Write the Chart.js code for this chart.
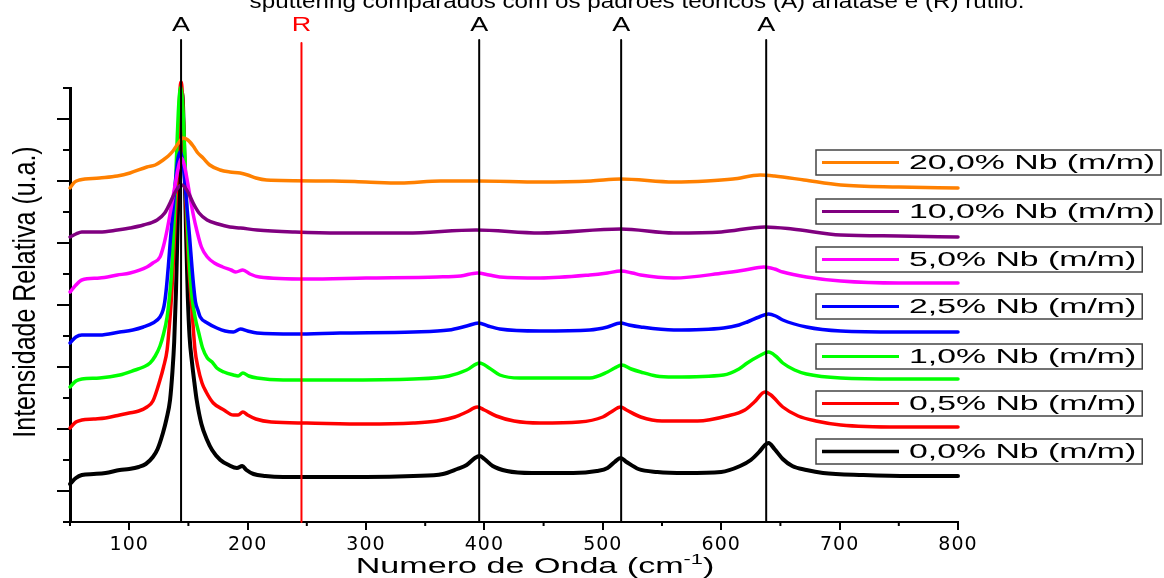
<!DOCTYPE html>
<html lang="pt">
<head>
<meta charset="utf-8">
<title>Espectros Raman</title>
<script src="https://cdn.jsdelivr.net/npm/chart.js@4.4.1/dist/chart.umd.min.js"></script>
<style>
  html, body { margin: 0; padding: 0; background: #fff; }
  #wrap { width: 1164px; height: 578px; position: relative; }
</style>
</head>
<body>
<div id="wrap"><canvas id="raman"></canvas></div>
<script>
// Raman spectra (offset for clarity), intensity in arbitrary units
const labels = ['20,0% Nb (m/m)', '10,0% Nb (m/m)', '5,0% Nb (m/m)', '2,5% Nb (m/m)', '1,0% Nb (m/m)', '0,5% Nb (m/m)', '0,0% Nb (m/m)'];
const colors = ['#ff8000', '#800080', '#ff00ff', '#0000ff', '#00ff00', '#ff0000', '#000000'];

const s20X = [50,54,58,75,90,100.7,115,122,128.6,133,137,141,145.5,149.5,154,158,162.4,168,176.8,185,193.7,200,207,216,272,300,329,363,395,447,490,515,560,588,610,633,645,670,701,750,800];
const s20Y = [334,340,342,344,346,349,355,357,362,366,371,378,384,382,376,369,364,357,352,350,349,347,344,342,341,340,339,341,341,340,341,343,340,341,343,347,346,342,337,335,334];

const s10X = [50,55,60,75,90,100.7,112,123.6,130,134.5,138,141,144.3,147.5,150.5,154,159,165.8,175,185,194,208,240,278,334,393,447,515,560,600,637,660,701,750,800];
const s10Y = [285,288,290,290,292,294,297,302,309,319,328,334,337,334,328,319,309,302,298,295,294,292,290,289,289,292,289,293,289,290,295,293,287,286,285];

const s5X = [50,55,60,75,90,100.7,115,120,126,129,132,134.5,137,139.5,142,144.2,146.5,149,151.4,154,157,161,166,172,179,186,190,196,202,210,250,300,360,380,394,404,413,447,489,504,515,525,532,560,602,620,636,645,652,672,701,750,800];
const s5Y = [230,237,242,244,247,249,255,259,265,276,292,308,325,342,357,364,357,342,325,308,292,275,265,259,255,252,250,252,248,245,243,244,245,246,249,247,245,244,247,249,251,249,247,244,249,252,255,253,250,245,241,239,239];

const s25X = [50,55,60,75,92,103,112,120,126,128.6,130,131.5,133,135,137,139,141,143,145,147,149,151,153,154.5,156,158,160,166,174,181,188,194,200,208,240,278,340,370,385,395,403,413,447,489,504,515,522,532,560,602,615,622,632,640,646,652,672,701,750,800];
const s25Y = [179,185,187,187,190,192,195,199,205,212,220,235,255,285,312,340,362,370,362,340,312,285,255,235,220,212,205,199,194,191,190,193,191,189,188,189,190,192,196,199,196,193,191,192,195,199,197,195,192,194,197,200,205,208,206,202,195,191,190,190];

const s1X = [50,55,60,75,92,105,112,117.6,122,126,129,132,134,135.5,136.5,137.5,138.5,139.5,140.5,141.5,142.5,143.5,144.5,145.5,146.5,147.5,148.5,149.5,150.5,151.5,153,155.6,159,162,166,170,174,180,188,192,196,201,208,230,278,340,370,385,396,404,413,430,489,504,510,516,524,532,545,560,602,615,622,632,640,646,652,662,672,701,750,800];
const s1Y = [135,141,143,144,147,152,155,159,166,176,188,205,225,245,265,290,318,350,382,410,428,435,428,410,382,350,318,290,265,245,225,205,188,174,164,160,154,150,147,146,149,146,144,142,142,143,146,152,159,154,147,144,144,150,154,157,153,150,146,145,147,153,159,166,170,166,159,152,148,144,143,143];

const s05X = [50,55,60,70,80,92,100,108,115,120,126,129,132,134.5,136,137.5,139,140.5,141.8,142.8,143.8,144.8,145.8,147,148.5,150,151.5,153,155.6,158,161.5,165,171,180,188,192,196,200,207,220,250,300,340,360,375,385,394,400,410,425,447,480,500,507,515,520,532,550,580,605,620,628,637,642,652,665,680,701,750,800];
const s05Y = [94,100,102,103,104,107,109,111,115,121,142,155,172,205,230,265,305,350,400,430,440,430,400,350,300,262,235,212,172,155,139,130,119,112,107,107,110,107,103,100,99,98,99,101,105,110,115,112,106,101,99,100,105,110,115,112,105,101,101,106,112,120,130,127,115,106,101,97,95,95];

const s0X = [50,55,60,70,80,92,100,108,114,120,124,128.5,131.5,134.5,136.5,138,139.5,141,142.5,143.5,144.5,145.5,146.5,148,149.5,151,153,155,157,161,165.8,170,177,184,191,195.5,199,205,215,230,260,300,340,365,377,385,392,396,400,407,419,440,475,495,504,510,515,520,530,546,570,600,616,625,632,637,640,645,652,660,672,686,720,760,800];
const s0Y = [38,44,47,48,49,52,53,55,58,65,73,89,103,122,150,180,230,300,380,420,430,415,370,290,225,185,160,140,122,98,82,72,62,57,54,56,52,48,46,45,45,45,46,48,53,57,64,66,63,56,51,49,49,51,54,60,64,60,53,50,49,50,56,62,70,77,79,73,63,56,52,49,47,46,46];

const seriesX = [s20X, s10X, s5X, s25X, s1X, s05X, s0X];
const seriesY = [s20Y, s10Y, s5Y, s25Y, s1Y, s05Y, s0Y];

// standard peaks: (A) anatase, (R) rutile
const refWave = [143.8, 245.5, 395.6, 515.5, 638];
const refPhase = ['A', 'R', 'A', 'A', 'A'];

const xMajor = [100, 200, 300, 400, 500, 600, 700, 800];
const yMajor = [31, 93, 155, 217, 279, 341, 403];

const pts = (xs, ys) => xs.map((x, i) => ({ x, y: ys[i] }));
const FONT = '"Liberation Sans", Arial, sans-serif';

function wideText(ctx, text, x, y, sx, align) {
  ctx.save();
  ctx.translate(x, y);
  ctx.scale(sx, 1);
  ctx.textAlign = align || 'center';
  ctx.fillText(text, 0, 0);
  ctx.restore();
}

const decor = {
  id: 'decor',
  // slightly wider tick labels, like the stretched original
  beforeDraw(chart) { chart.ctx.letterSpacing = '1px'; },
  beforeDatasetsDraw(chart) { chart.ctx.letterSpacing = '0px'; },
  afterDraw(chart) {
    const { ctx, scales: { x, y } } = chart;
    ctx.save();

    // minor ticks
    ctx.strokeStyle = '#000';
    ctx.lineWidth = 2;
    ctx.beginPath();
    for (let v = 50; v <= 750; v += 100) {
      const px = x.getPixelForValue(v);
      ctx.moveTo(px, y.bottom); ctx.lineTo(px, y.bottom + 4);
    }
    for (let v = 0; v <= 434; v += 62) {
      const py = y.getPixelForValue(v);
      ctx.moveTo(x.left - 7, py); ctx.lineTo(x.left, py);
    }
    ctx.stroke();

    // caption line (cut at the top)
    ctx.fillStyle = '#000';
    ctx.textBaseline = 'alphabetic';
    ctx.font = '20px ' + FONT;
    wideText(ctx, 'sputtering comparados com os padrões teóricos (A) anatase e (R) rutilo.', 637, 8, 1.21);

    // phase letters over the reference lines
    refWave.forEach((w, i) => {
      ctx.fillStyle = refPhase[i] === 'R' ? '#ff0000' : '#000';
      wideText(ctx, refPhase[i], x.getPixelForValue(w), 31, 1.35);
    });

    // x title with superscript
    ctx.fillStyle = '#000';
    const sx = 1.55;
    ctx.font = '22px ' + FONT;
    const t1 = 'Numero de Onda (cm', t3 = ')';
    const w1 = ctx.measureText(t1).width, w3 = ctx.measureText(t3).width;
    ctx.font = '14px ' + FONT;
    const w2 = ctx.measureText('-1').width;
    const total = (w1 + w2 + w3) * sx;
    let cx = 535 - total / 2;
    ctx.font = '22px ' + FONT;
    wideText(ctx, t1, cx, 573, sx, 'left');
    cx += w1 * sx;
    ctx.font = '14px ' + FONT;
    wideText(ctx, '-1', cx, 564, sx, 'left');
    cx += w2 * sx;
    ctx.font = '22px ' + FONT;
    wideText(ctx, t3, cx, 573, sx, 'left');

    // y title (tall, narrow letters)
    ctx.save();
    ctx.translate(35, 292);
    ctx.rotate(-Math.PI / 2);
    ctx.scale(0.78, 1);
    ctx.font = '32px ' + FONT;
    ctx.textAlign = 'center';
    ctx.fillText('Intensidade Relativa (u.a.)', 0, 0);
    ctx.restore();

    // legend: one boxed entry beside each spectrum
    const tops = [150, 199, 247, 294, 344, 391, 439];
    const lsx = 1.69;
    ctx.font = '20px ' + FONT;
    ctx.textBaseline = 'middle';
    labels.forEach((lab, i) => {
      const top = tops[i], h = 25, left = 816;
      const tw = ctx.measureText(lab).width * lsx;
      const right = 909 + tw + 6;
      ctx.fillStyle = '#fff';
      ctx.fillRect(left, top, right - left, h);
      ctx.strokeStyle = '#444';
      ctx.lineWidth = 1.5;
      ctx.strokeRect(left, top, right - left, h);
      ctx.strokeStyle = colors[i];
      ctx.lineWidth = i === 6 ? 3.5 : 3;
      ctx.beginPath();
      ctx.moveTo(822, top + h / 2); ctx.lineTo(899, top + h / 2);
      ctx.stroke();
      ctx.fillStyle = '#000';
      wideText(ctx, lab, 909, top + h / 2 + 1, lsx, 'left');
    });

    ctx.restore();
  }
};

const refSets = refWave.map((w, i) => ({
  label: refPhase[i],
  data: [{ x: w, y: 0 }, { x: w, y: refPhase[i] === 'R' ? 479 : 482 }],
  borderColor: refPhase[i] === 'R' ? '#ff0000' : '#000000',
  borderWidth: 2,
  cubicInterpolationMode: 'default',
  order: 0,
  clip: false
}));

const specSets = labels.map((lab, i) => ({
  label: lab,
  data: pts(seriesX[i], seriesY[i]),
  borderColor: colors[i],
  borderWidth: i === 6 ? 4 : 3.5,
  order: 1,
  clip: false
}));

new Chart(document.getElementById('raman').getContext('2d'), {
  type: 'line',
  data: { datasets: [...refSets, ...specSets] },
  options: {
    responsive: true,
    maintainAspectRatio: false,
    animation: false,
    events: [],
    layout: { padding: { left: 57, right: 206, top: 88, bottom: 22 } },
    elements: {
      point: { radius: 0 },
      line: { cubicInterpolationMode: 'monotone', borderJoinStyle: 'round', borderCapStyle: 'round' }
    },
    plugins: { legend: { display: false }, tooltip: { enabled: false } },
    scales: {
      x: {
        type: 'linear', min: 50, max: 800,
        afterBuildTicks: s => { s.ticks = xMajor.map(v => ({ value: v })); },
        afterFit: s => { s.height = 34; },
        grid: { drawOnChartArea: false, drawTicks: true, tickLength: 8, tickWidth: 2, lineWidth: 2, tickColor: '#000' },
        border: { color: '#000', width: 2 },
        ticks: { color: '#000', padding: 4, maxRotation: 0, autoSkip: false, font: { family: '"DejaVu Sans", sans-serif', size: 19 } }
      },
      y: {
        type: 'linear', min: 0, max: 434,
        afterBuildTicks: s => { s.ticks = yMajor.map(v => ({ value: v })); },
        afterFit: s => { s.width = 13; },
        grid: { drawOnChartArea: false, drawTicks: true, tickLength: 13, tickWidth: 2, lineWidth: 2, tickColor: '#000' },
        border: { color: '#000', width: 3 },
        ticks: { display: false }
      }
    }
  },
  plugins: [decor]
});
</script>
</body>
</html>
